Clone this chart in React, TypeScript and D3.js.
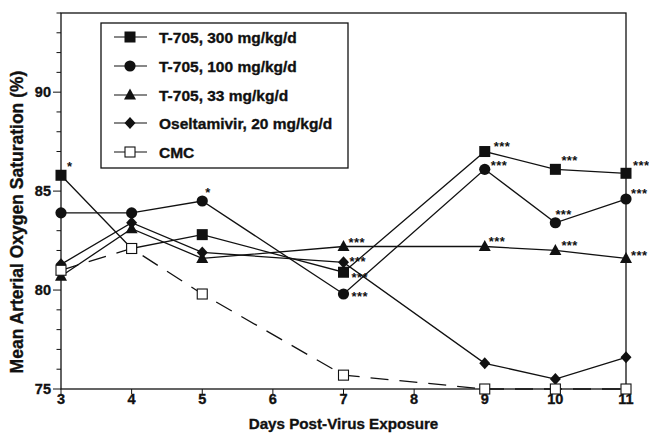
import React from "react";
import * as d3 from "d3";

const days = [3, 4, 5, 7, 9, 10, 11];
const t705_300 = [85.8, 82.1, 82.8, 80.9, 87.0, 86.1, 85.9];
const t705_100 = [83.9, 83.9, 84.5, 79.8, 86.1, 83.4, 84.6];
const t705_33 = [80.7, 83.1, 81.6, 82.2, 82.2, 82.0, 81.6];
const oseltamivir = [81.3, 83.4, 81.9, 81.4, 76.3, 75.5, 76.6];
const cmc = [81.0, 82.1, 79.8, 75.7, 75.0, 75.0, 75.0];

const seriesNames = [
  "T-705, 300 mg/kg/d",
  "T-705, 100 mg/kg/d",
  "T-705, 33 mg/kg/d",
  "Oseltamivir, 20 mg/kg/d",
  "CMC",
];
const seriesValues = [t705_300, t705_100, t705_33, oseltamivir, cmc];
const seriesMarkers = ["square", "circle", "triangle", "diamond", "open"];

const xTicks = [3, 4, 5, 6, 7, 8, 9, 10, 11];
const yMajorTicks = [75, 80, 85, 90];
const yMinorTicks = d3.range(75, 95, 1);

// significance marks: [series index, day, label, dx (left edge), dy (centre)]
const marks: [number, number, string, number, number][] = [
  [0, 3, "*", 6, -12],
  [1, 5, "*", 3, -11],
  [2, 7, "***", 5, -7],
  [3, 7, "***", 6, -4],
  [0, 7, "***", 8, 2],
  [1, 7, "***", 8, 0],
  [0, 9, "***", 9, -8],
  [1, 9, "***", 6, -7],
  [2, 9, "***", 4, -8],
  [0, 10, "***", 6, -12],
  [1, 10, "***", 0, -11],
  [2, 10, "***", 6, -8],
  [0, 11, "***", 7, -11],
  [1, 11, "***", 5, -8],
  [2, 11, "***", 5, -6],
];

const W = 649;
const H = 433;
const x = d3.scaleLinear().domain([3, 11]).range([61, 626]);
const y = d3.scaleLinear().domain([75, 94]).range([389, 13]);

const FONT = "'Liberation Sans', Arial, Helvetica, sans-serif";
const STAR_FS = 13;
const TEXT_STROKE = { stroke: "#111", strokeWidth: 0.35 };

function Marker({ kind, cx, cy }: { kind: string; cx: number; cy: number }) {
  if (kind === "square") {
    return <rect x={cx - 5.5} y={cy - 5.5} width={11} height={11} fill="#111" />;
  }
  if (kind === "circle") {
    return <circle cx={cx} cy={cy} r={5.6} fill="#111" />;
  }
  if (kind === "triangle") {
    return (
      <path
        d={`M${cx},${cy - 6.5}L${cx + 6},${cy + 4.5}L${cx - 6},${cy + 4.5}Z`}
        fill="#111"
      />
    );
  }
  if (kind === "diamond") {
    return (
      <path
        d={`M${cx},${cy - 6}L${cx + 5.5},${cy}L${cx},${cy + 6}L${cx - 5.5},${cy}Z`}
        fill="#111"
      />
    );
  }
  return (
    <rect
      x={cx - 5}
      y={cy - 5}
      width={10}
      height={10}
      fill="#fff"
      stroke="#111"
      strokeWidth={1.1}
    />
  );
}

export default function App() {
  const line = d3
    .line<number>()
    .x((_, i) => x(days[i]))
    .y((v) => y(v));

  const legendRows = [37, 66, 95, 123, 152];

  return (
    <svg
      width={W}
      height={H}
      style={{ position: "absolute", left: 0, top: 0, background: "#fff" }}
      fontFamily={FONT}
    >
      <rect x={0} y={0} width={W} height={H} fill="#fff" />
      {/* frame */}
      <rect
        x={x(3)}
        y={y(94)}
        width={x(11) - x(3)}
        height={y(75) - y(94)}
        fill="none"
        stroke="#111"
        strokeWidth={1.3}
      />
      {/* y ticks */}
      {yMinorTicks.map((t) => (
        <line
          key={"ym" + t}
          x1={x(3) - (yMajorTicks.includes(t) ? 8 : 4.5)}
          x2={x(3)}
          y1={y(t)}
          y2={y(t)}
          stroke="#111"
          strokeWidth={1}
        />
      ))}
      {yMajorTicks.map((t) => (
        <text
          key={"yl" + t}
          x={x(3) - 10}
          y={y(t)}
          dy="0.36em"
          textAnchor="end"
          fontSize={14.5}
          fontWeight="bold"
          fill="#111"
          {...TEXT_STROKE}
        >
          {t}
        </text>
      ))}
      {/* x ticks */}
      {xTicks.map((t) => (
        <g key={"x" + t}>
          <line x1={x(t)} x2={x(t)} y1={y(75)} y2={y(75) + 5} stroke="#111" strokeWidth={1} />
          <text
            x={x(t)}
            y={y(75) + 15}
            textAnchor="middle"
            fontSize={14.5}
            fontWeight="bold"
            fill="#111"
            {...TEXT_STROKE}
          >
            {t}
          </text>
        </g>
      ))}
      <text
        x={(x(3) + x(11)) / 2}
        y={429}
        textAnchor="middle"
        fontSize={15.2}
        fontWeight="bold"
        fill="#111"
        {...TEXT_STROKE}
      >
        Days Post-Virus Exposure
      </text>
      <text
        transform={`translate(23,222) rotate(-90)`}
        textAnchor="middle"
        fontSize={17.5}
        fontWeight="bold"
        fill="#111"
        {...TEXT_STROKE}
      >
        Mean Arterial Oxygen Saturation (%)
      </text>

      {/* series */}
      {seriesValues.map((vals, si) => (
        <g key={"s" + si}>
          <path
            d={line(vals) || ""}
            fill="none"
            stroke="#111"
            strokeWidth={1.3}
            strokeDasharray={seriesMarkers[si] === "open" ? "18,11" : undefined}
          />
          {vals.map((v, i) => (
            <Marker key={i} kind={seriesMarkers[si]} cx={x(days[i])} cy={y(v)} />
          ))}
        </g>
      ))}

      {/* significance marks */}
      {marks.map(([si, day, label, dx, dy], k) => {
        const i = days.indexOf(day);
        const v = seriesValues[si][i];
        return (
          <text
            key={"m" + k}
            x={x(day) + dx}
            y={y(v) + dy + STAR_FS * 0.57}
            fontSize={STAR_FS}
            fontWeight="bold"
            letterSpacing={0.4}
            fill="#111"
          >
            {label}
          </text>
        );
      })}

      {/* legend */}
      <rect x={101} y={23} width={247} height={145} fill="#fff" stroke="#111" strokeWidth={1.3} />
      {seriesNames.map((name, i) => (
        <g key={"l" + i}>
          <line x1={114} x2={147} y1={legendRows[i]} y2={legendRows[i]} stroke="#111" strokeWidth={1.2} />
          <Marker kind={seriesMarkers[i]} cx={130} cy={legendRows[i]} />
          <text
            x={159}
            y={legendRows[i]}
            dy="0.36em"
            fontSize={15.5}
            fontWeight="bold"
            fill="#111"
            {...TEXT_STROKE}
          >
            {name}
          </text>
        </g>
      ))}
    </svg>
  );
}
